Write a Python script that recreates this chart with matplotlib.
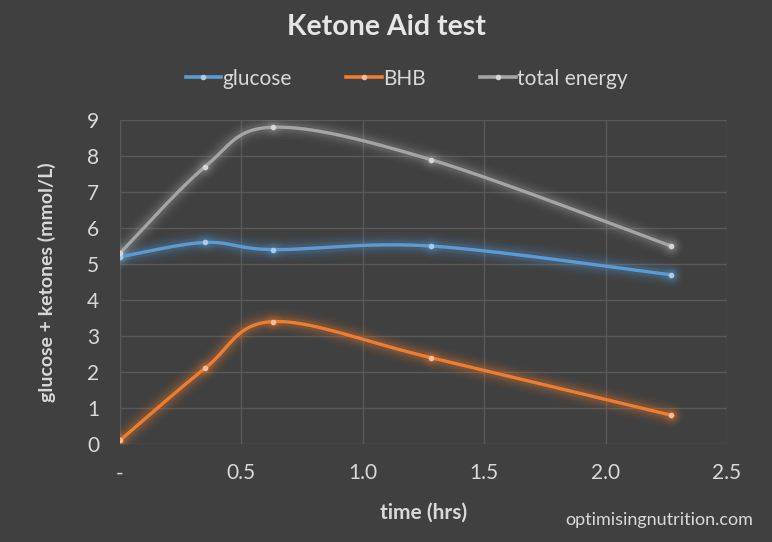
import numpy as np
import matplotlib
matplotlib.use("Agg")
import matplotlib.pyplot as plt

time_hrs = [0.0, 0.35, 0.63, 1.28, 2.27]
glucose = [5.2, 5.6, 5.4, 5.5, 4.7]
bhb = [0.1, 2.1, 3.4, 2.4, 0.8]
total_energy = [5.3, 7.7, 8.8, 7.9, 5.5]

series_names = ["glucose", "BHB", "total energy"]
series_colors = ["#5b9bd5", "#ed7d31", "#a5a5a5"]
marker_colors = ["#a9cbec", "#f6be98", "#d6d6d6"]

x_ticks = [0.0, 0.5, 1.0, 1.5, 2.0, 2.5]
x_tick_labels = ["-", "0.5", "1.0", "1.5", "2.0", "2.5"]
y_ticks = list(range(0, 10))

BG = "#404040"
TXT = "#d9d9d9"
GRID = "#595959"
FONT = "Lato"


def smooth(xs, ys, n=40):
    # Catmull-Rom style bezier like Excel smoothed lines
    xs = np.asarray(xs, float); ys = np.asarray(ys, float)
    P = np.column_stack([xs, ys])
    out = []
    for i in range(len(P) - 1):
        p0 = P[i - 1] if i > 0 else P[i]
        p1 = P[i]
        p2 = P[i + 1]
        p3 = P[i + 2] if i + 2 < len(P) else P[i + 1]
        c1 = p1 + (p2 - p0) / 6.0
        c2 = p2 - (p3 - p1) / 6.0
        t = np.linspace(0, 1, n)[:, None]
        seg = ((1 - t) ** 3) * p1 + 3 * ((1 - t) ** 2) * t * c1 + 3 * (1 - t) * t ** 2 * c2 + t ** 3 * p2
        if i > 0:
            seg = seg[1:]
        out.append(seg)
    S = np.vstack(out)
    return S[:, 0], S[:, 1]


fig = plt.figure(figsize=(7.72, 5.42), dpi=100, facecolor=BG)
ax = fig.add_axes([0.1554, 0.1808, 0.7863, 0.5978], facecolor=BG)

ax.set_xlim(0, 2.5)
ax.set_ylim(0, 9)
ax.set_xticks(x_ticks)
ax.set_xticklabels(x_tick_labels)
ax.set_yticks(y_ticks)
ax.grid(True, color=GRID, linewidth=1.0)
ax.set_axisbelow(True)
for s in ax.spines.values():
    s.set_visible(False)
ax.tick_params(axis="both", length=0, colors=TXT, labelsize=15)
ax.tick_params(axis="y", pad=15)
ax.tick_params(axis="x", pad=14)
for lab in ax.get_xticklabels() + ax.get_yticklabels():
    lab.set_fontfamily(FONT)
    lab.set_color(TXT)

all_series = [glucose, bhb, total_energy]
handles = []
for vals, name, col, mcol in zip(all_series, series_names, series_colors, marker_colors):
    sx, sy = smooth(time_hrs, vals)
    for lw, a in [(18, 0.035), (14, 0.05), (11, 0.07), (8, 0.09), (6, 0.11)]:
        ax.plot(sx, sy, color=col, linewidth=lw, alpha=a, solid_capstyle="round", zorder=2)
        ax.plot(time_hrs, vals, linestyle="none", marker="o", markersize=lw * 0.9,
                color=col, alpha=a, markeredgewidth=0, zorder=2)
    ax.plot(sx, sy, color=col, linewidth=2.4, solid_capstyle="round", zorder=3)
    ax.plot(time_hrs, vals, linestyle="none", marker="o", markersize=4,
            color=mcol, markeredgewidth=0, zorder=4)
    h, = ax.plot([], [], color=col, linewidth=2.6, marker="o", markersize=4,
                 markerfacecolor=mcol, markeredgewidth=0)
    handles.append(h)

leg = fig.legend(handles, series_names, loc="center", bbox_to_anchor=(0.527, 0.855),
                 ncol=3, frameon=False, handlelength=1.7, handletextpad=0.08,
                 columnspacing=2.6, prop={"family": FONT, "size": 15})
for t in leg.get_texts():
    t.set_color(TXT)

fig.text(0.5, 0.95, "Ketone Aid test", ha="center", va="center", fontsize=20.5,
         fontweight="bold", color="#e6e6e6", family=FONT)
ax.set_xlabel("time (hrs)", fontsize=15, fontweight="bold", color=TXT, family=FONT, labelpad=14)
ax.set_ylabel("glucose + ketones (mmol/L)", fontsize=14, fontweight="bold", color=TXT,
              family=FONT, labelpad=22)
fig.text(0.976, 0.04, "optimisingnutrition.com", ha="right", va="center", fontsize=13,
         color=TXT, family=FONT)

fig.savefig("out.png", dpi=100, facecolor=BG)
